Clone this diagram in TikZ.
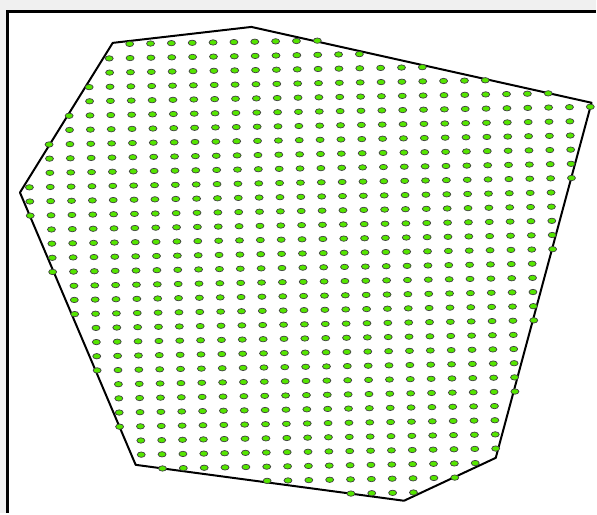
\documentclass[tikz,border=0pt]{standalone}
\usepackage{tikz}
\usepackage{xcolor}
\definecolor{Panel}{HTML}{F0F0F0}
\definecolor{Seed}{HTML}{55E600}

\begin{document}
\begin{tikzpicture}[x=1pt,y=-1pt,
    hull/.style={line width=2pt,line join=round},
    seed/.style={fill=Seed,draw=black!75,line width=0.7pt},
    declare function={
      side(\ax,\ay,\bx,\by,\x,\y)=((\bx-\ax)*(\y-\ay)-(\by-\ay)*(\x-\ax))/(100*veclen((\bx-\ax)/100,(\by-\ay)/100));
    }]
  \fill[Panel] (0,0) rectangle (597,514);
  \fill[white] (8,12) rectangle (597,514);
  \draw[line width=3pt] (8,514) -- (8,12) -- (597,12);
  % hull corners
  \coordinate (a) at (113,43);
  \coordinate (b) at (252,27);
  \coordinate (c) at (593,103);
  \coordinate (d) at (497,459);
  \coordinate (e) at (405,502);
  \coordinate (f) at (136,466);
  \coordinate (g) at (20,193);
  \draw[hull] (a) -- (b) -- (c) -- (d) -- (e) -- (f) -- (g) -- cycle;
  % grid points kept inside the hull
  \foreach \i in {-5,...,22}{
    \foreach \j in {0,...,33}{
      \pgfmathsetmacro{\px}{130+20.9*\i+0.4*\j}
      \pgfmathsetmacro{\py}{44+14.2*\j-0.36*\i}
      \pgfmathsetmacro{\dmin}{min(side(113/10,43/10,252/10,27/10,\px/10,\py/10),
        side(252/10,27/10,593/10,103/10,\px/10,\py/10),
        side(593/10,103/10,497/10,459/10,\px/10,\py/10),
        side(497/10,459/10,405/10,502/10,\px/10,\py/10),
        side(405/10,502/10,136/10,466/10,\px/10,\py/10),
        side(136/10,466/10,20/10,193/10,\px/10,\py/10),
        side(20/10,193/10,113/10,43/10,\px/10,\py/10))}
      \ifdim\dmin pt>-0.15pt
        \filldraw[seed] (\px,\py) ellipse [x radius=4,y radius=2.7];
      \fi
    }
  }
\end{tikzpicture}
\end{document}
